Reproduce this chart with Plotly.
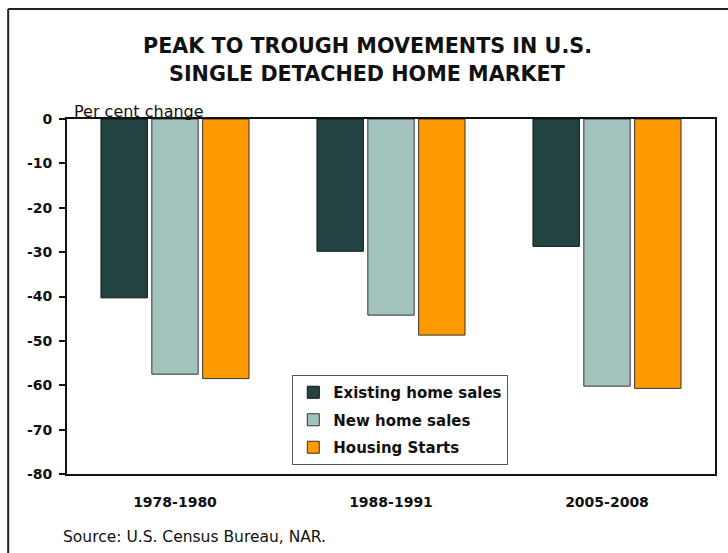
import plotly.graph_objects as go

categories = ["1978-1980", "1988-1991", "2005-2008"]
existing_home_sales = [-40.3, -29.8, -28.7]
new_home_sales = [-57.5, -44.2, -60.2]
housing_starts = [-58.5, -48.7, -60.7]
series_names = ["Existing home sales", "New home sales", "Housing Starts"]
y_tick_values = [0, -10, -20, -30, -40, -50, -60, -70, -80]

colors = ["#234442", "#A3C4BE", "#FF9900"]
outline = ["#111111", "#333333", "#333333"]
FONT = "DejaVu Sans"

fig = go.Figure()
for i, (name, vals) in enumerate(zip(series_names, [existing_home_sales, new_home_sales, housing_starts])):
    fig.add_trace(go.Bar(
        x=categories, y=vals, name=name, legendgroup=name,
        marker=dict(color=colors[i], line=dict(color=outline[i], width=1)),
    ))

# plot area: x 67..717, y 119..474
L, R, T, B = 67, 728 - 717, 119, 553 - 474
W, H = 717 - 67, 474 - 119


def px(x):
    return (x - L) / W


def py(y):
    return (474 - y) / H


fig.update_layout(
    width=728, height=553,
    margin=dict(l=L, r=R, t=T, b=B, pad=0),
    paper_bgcolor="white", plot_bgcolor="white",
    barmode="group", bargap=0.294, bargroupgap=0.088,
    showlegend=True,
    legend=dict(
        x=px(293), y=py(375), xanchor="left", yanchor="top",
        bgcolor="white", bordercolor="#555555", borderwidth=1,
        font=dict(family=FONT, size=15, color="#111111", weight="bold"),
        tracegroupgap=5, traceorder="grouped",
        itemclick=False,
    ),
    font=dict(family=FONT, color="#111111"),
)

fig.update_yaxes(
    range=[-80, 0], tickvals=y_tick_values, ticktext=[str(v) for v in y_tick_values],
    ticks="outside", ticklen=6, tickwidth=1.5, tickcolor="#111111",
    showline=True, linecolor="#111111", linewidth=2, mirror=True,
    showgrid=False, zeroline=False,
    tickfont=dict(family=FONT, size=14, color="#111111", weight="bold"),
    ticklabelstandoff=4,
)
fig.update_xaxes(
    showline=True, linecolor="#111111", linewidth=2, mirror=True,
    ticks="", showgrid=False,
    tickfont=dict(family=FONT, size=14, color="#111111", weight="bold"),
    ticklabelstandoff=14,
)

annotations = [
    dict(text="<b>PEAK TO TROUGH MOVEMENTS IN U.S.</b>", x=px(368), y=py(45.5),
         xanchor="center", yanchor="middle", font=dict(family=FONT, size=20.7, color="#111111")),
    dict(text="<b>SINGLE DETACHED HOME MARKET</b>", x=px(368), y=py(74.5),
         xanchor="center", yanchor="middle", font=dict(family=FONT, size=20.7, color="#111111")),
    dict(text="Per cent change", x=px(72), y=py(111),
         xanchor="left", yanchor="middle", font=dict(family=FONT, size=16, color="#111111")),
    dict(text="Source: U.S. Census Bureau, NAR.", x=px(61), y=py(537),
         xanchor="left", yanchor="middle", font=dict(family=FONT, size=15.5, color="#111111")),
]
for a in annotations:
    a.update(xref="paper", yref="paper", showarrow=False)
fig.update_layout(annotations=annotations)

# outer frame (top and left edges visible)
fig.add_shape(type="line", xref="paper", yref="paper", x0=px(8), x1=px(740), y0=py(9), y1=py(9),
              line=dict(color="#222222", width=2))
fig.add_shape(type="line", xref="paper", yref="paper", x0=px(8), x1=px(8), y0=py(9), y1=py(560),
              line=dict(color="#222222", width=2))

fig.write_html("out.html", config={"displayModeBar": False},
               post_script="document.body.style.margin='0';document.body.style.overflow='hidden';")
